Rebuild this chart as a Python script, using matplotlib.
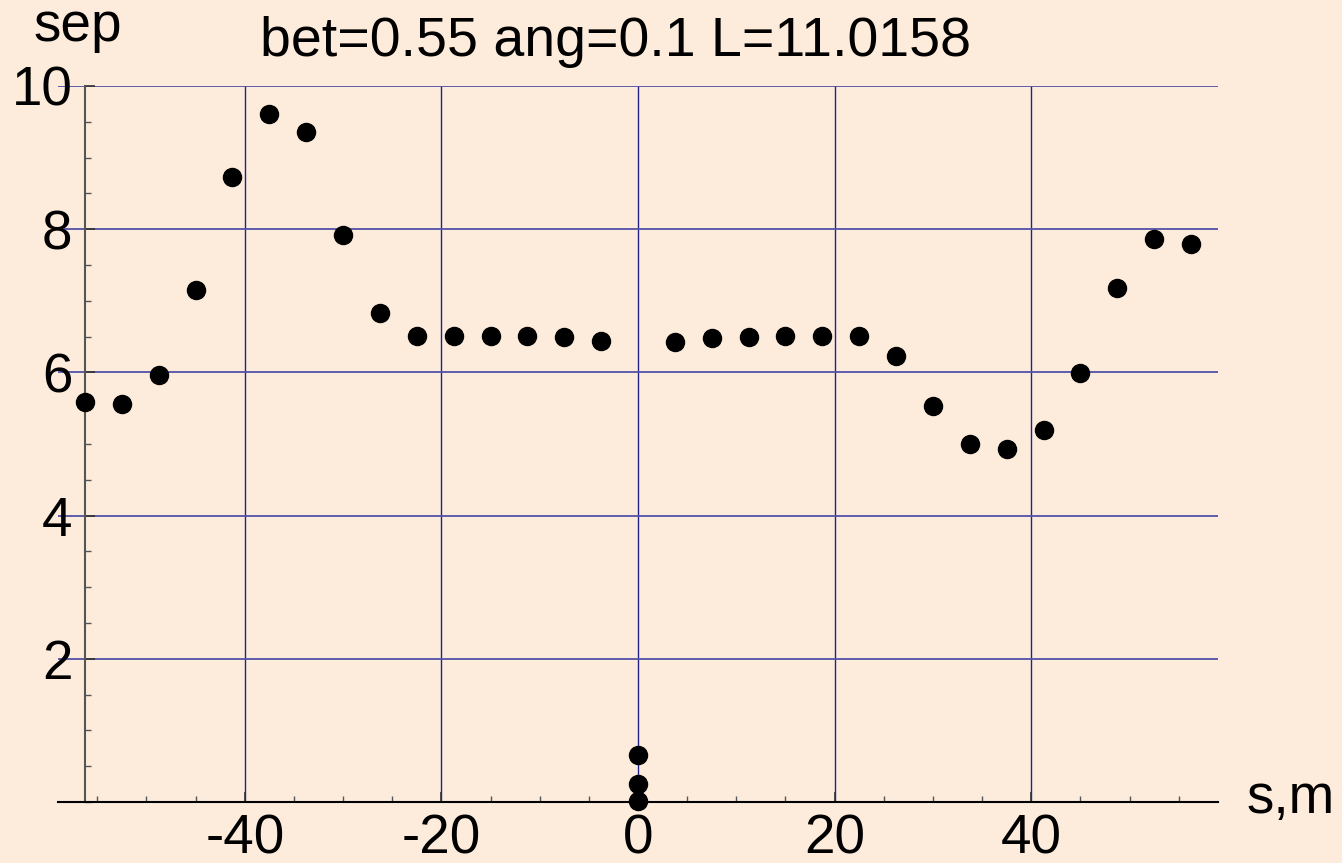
import matplotlib
matplotlib.use("Agg")
import matplotlib.pyplot as plt
from matplotlib.ticker import MultipleLocator

s_vals = [-56.25, -52.5, -48.75, -45, -41.25, -37.5, -33.75, -30, -26.25, -22.5,
          -18.75, -15, -11.25, -7.5, -3.75, 0, 0, 0,
          3.75, 7.5, 11.25, 15, 18.75, 22.5, 26.25, 30, 33.75, 37.5, 41.25, 45,
          48.75, 52.5, 56.25]
sep_vals = [5.59, 5.56, 5.96, 7.15, 8.73, 9.61, 9.36, 7.92, 6.83, 6.51,
            6.51, 6.51, 6.51, 6.49, 6.44, 0.66, 0.25, 0.01,
            6.42, 6.48, 6.49, 6.51, 6.51, 6.51, 6.23, 5.53, 5.00, 4.93, 5.20, 5.99,
            7.18, 7.86, 7.79]
x_ticks = [-40, -20, 0, 20, 40]
y_ticks = [2, 4, 6, 8, 10]
title = "bet=0.55 ang=0.1 L=11.0158"

bg = "#fdecdb"
vgrid_c = "#22228a"
hgrid_c = "#5252a8"
plt.rcParams['font.family'] = ['Liberation Sans', 'DejaVu Sans']

W, H = 1342, 863
fig = plt.figure(figsize=(W/100, H/100), dpi=100, facecolor=bg)
ax = fig.add_axes([58/W, 1-802/H, (1218-58)/W, (802-86)/H])
ax.set_facecolor(bg)
ax.set_xlim(-59, 59)
ax.set_ylim(0, 10)

for gx in x_ticks:
    ax.axvline(gx, color=vgrid_c, lw=1.0, zorder=1)
for gy in y_ticks:
    ax.axhline(gy, color=hgrid_c, lw=1.3, zorder=1)

ax.plot(s_vals, sep_vals, 'o', color='black', ms=13, zorder=3, clip_on=False)

for sp in ['top', 'right']:
    ax.spines[sp].set_visible(False)
ax.spines['left'].set_position(('data', -56.25))
ax.spines['left'].set_color('#555555')
ax.spines['left'].set_linewidth(1.5)
ax.spines['bottom'].set_position(('data', 0))
ax.spines['bottom'].set_linewidth(1.5)

ax.set_xticks(x_ticks)
ax.set_yticks(y_ticks)
ax.xaxis.set_minor_locator(MultipleLocator(5))
ax.yaxis.set_minor_locator(MultipleLocator(0.5))
ax.tick_params(axis='both', which='major', direction='in', length=7, width=1.2,
               labelsize=39.5, color='#333333')
ax.tick_params(axis='both', which='minor', direction='in', length=4, width=1.0,
               color='#555555')
ax.tick_params(axis='x', pad=8)
ax.tick_params(axis='y', pad=9)
ax.set_xticklabels([str(t) for t in x_ticks])
ax.set_yticklabels([str(t) for t in y_ticks])

fig.text(616/W, 1-42/H, title, fontsize=40, ha='center', va='center')
fig.text(78/W, 1-27/H, "sep", fontsize=39.5, ha='center', va='center')
fig.text(1291/W, 1-799/H, "s,m", fontsize=39.5, ha='center', va='center')

fig.savefig("out.png", dpi=100, facecolor=bg)
